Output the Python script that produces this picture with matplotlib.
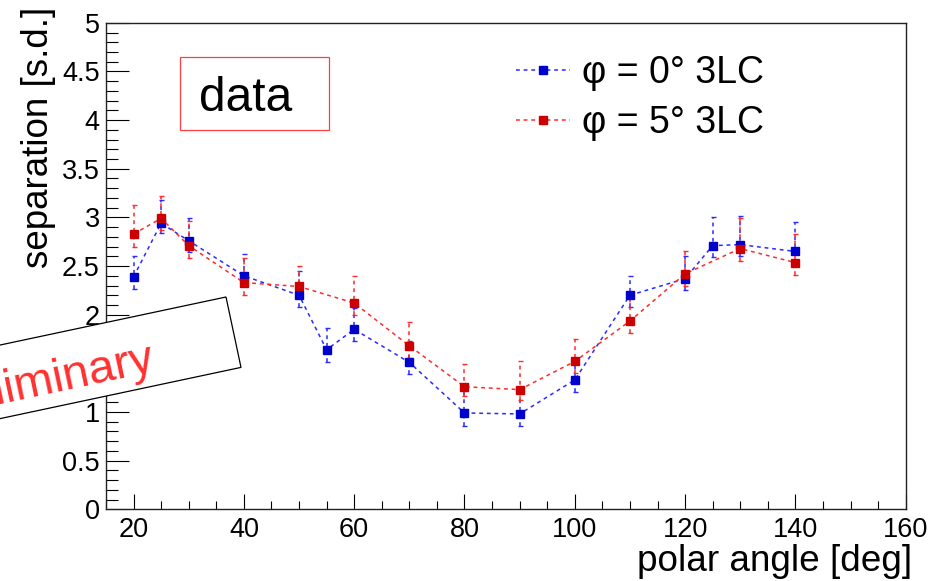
import matplotlib
matplotlib.use("Agg")
import matplotlib.pyplot as plt
from matplotlib.patches import Polygon, Rectangle
from matplotlib.ticker import MultipleLocator, FuncFormatter
import numpy as np

plt.rcParams['font.family'] = ['Liberation Sans', 'DejaVu Sans']

# phi = 0 deg, 3LC
angle_phi0 = [20, 25, 30, 40, 50, 55, 60, 70, 80, 90, 100, 110, 120, 125, 130, 140]
sep_phi0 = [2.39, 2.94, 2.76, 2.40, 2.20, 1.64, 1.85, 1.51, 0.99, 0.98, 1.33, 2.20, 2.37, 2.71, 2.72, 2.65]
err_up_phi0 = [0.21, 0.24, 0.23, 0.22, 0.25, 0.22, 0.22, 0.22, 0.24, 0.24, 0.22, 0.20, 0.23, 0.29, 0.29, 0.30]
err_lo_phi0 = [0.125, 0.10, 0.12, 0.09, 0.12, 0.13, 0.12, 0.12, 0.13, 0.12, 0.12, 0.12, 0.12, 0.12, 0.12, 0.12]

# phi = 5 deg, 3LC
angle_phi5 = [20, 25, 30, 40, 50, 60, 70, 80, 90, 100, 110, 120, 130, 140]
sep_phi5 = [2.83, 2.99, 2.71, 2.33, 2.29, 2.12, 1.68, 1.26, 1.23, 1.52, 1.935, 2.42, 2.68, 2.535]
err_up_phi5 = [0.30, 0.23, 0.25, 0.25, 0.21, 0.28, 0.24, 0.23, 0.29, 0.23, 0.25, 0.23, 0.31, 0.29]
err_lo_phi5 = [0.13, 0.12, 0.13, 0.13, 0.12, 0.12, 0.12, 0.10, 0.11, 0.12, 0.12, 0.12, 0.125, 0.125]

labels = ["φ = 0° 3LC", "φ = 5° 3LC"]

W, H = 947, 581
fig = plt.figure(figsize=(W / 100, H / 100), dpi=100)
fig.patch.set_facecolor('white')


def fx(px):
    return px / W


def fy(py):
    return 1 - py / H


ax = fig.add_axes([fx(106), fy(509.3), (905.7 - 106) / W, (509.3 - 22.8) / H])

dash = (0, (2.5, 2.5))


def draw_series(x, y, lo, up, line_col, mark_col):
    cont = ax.errorbar(x, y, yerr=[lo, up], fmt='s', ls=dash, lw=1.1,
                       color=line_col, mfc=mark_col, mec=mark_col, ms=5.3,
                       ecolor=line_col, elinewidth=1.1, capsize=1.8, capthick=1.0)
    for bl in cont[2]:
        bl.set_linestyle(dash)
    return cont[0]


h0 = draw_series(angle_phi0, sep_phi0, err_lo_phi0, err_up_phi0, '#2a2aff', '#0000cc')
h1 = draw_series(angle_phi5, sep_phi5, err_lo_phi5, err_up_phi5, '#ff2a2a', '#cc0000')

ax.set_xlim(15, 160)
ax.set_ylim(0, 5)
ax.xaxis.set_major_locator(MultipleLocator(20))
ax.xaxis.set_minor_locator(MultipleLocator(5))
ax.yaxis.set_major_locator(MultipleLocator(0.5))
ax.yaxis.set_minor_locator(MultipleLocator(0.1))
ax.yaxis.set_major_formatter(FuncFormatter(lambda v, p: f"{v:g}"))
ax.tick_params(which='both', direction='in', top=False, right=False,
               width=0.8, color='black', labelsize=19.5)
ax.tick_params(axis='y', which='major', length=16.5, pad=4.5)
ax.tick_params(axis='y', which='minor', length=8.6)
ax.tick_params(axis='x', which='major', length=10.8, pad=5.5)
ax.tick_params(axis='x', which='minor', length=5.8)
for s in ax.spines.values():
    s.set_linewidth(1.0)
    s.set_color('#222222')

fig.text(fx(912), fy(571), "polar angle [deg]", ha='right', va='baseline', fontsize=26.6)
fig.text(fx(38), fy(7), "separation [s.d.]", rotation=90, ha='center', va='top', fontsize=26.5)

leg = ax.legend([h0, h1], labels, loc='center left',
                bbox_to_anchor=(fx(516), fy(98)), bbox_transform=fig.transFigure,
                frameon=False, fontsize=27, numpoints=1, handlelength=1.44,
                handletextpad=0.31, labelspacing=0.39, borderpad=0, borderaxespad=0)

# "data" label box
fig.patches.append(Rectangle((fx(180), fy(130)), (329 - 180) / W, (130 - 57) / H,
                             transform=fig.transFigure, facecolor='white',
                             edgecolor='#ff4040', lw=0.9, zorder=3))
fig.text(fx(199), fy(111), "data", ha='left', va='baseline', fontsize=34.5, zorder=4)

# tilted "Preliminary" stamp
theta = np.deg2rad(12)
tr = np.array([226.0, 297.0])
br = np.array([241.0, 367.4])
along = np.array([-np.cos(theta), np.sin(theta)])
tl = tr + 700 * along
bl = br + 700 * along
corners = [(fx(p[0]), fy(p[1])) for p in (tl, tr, br, bl)]
fig.patches.append(Polygon(corners, closed=True, transform=fig.transFigure,
                           facecolor='white', edgecolor='black', lw=0.9, zorder=5))
fig.text(fx(156), fy(370), "Preliminary", rotation=12, rotation_mode='anchor',
         ha='right', va='baseline', color='#ff3030', fontsize=34, zorder=6)

fig.savefig("out.png", dpi=100)
